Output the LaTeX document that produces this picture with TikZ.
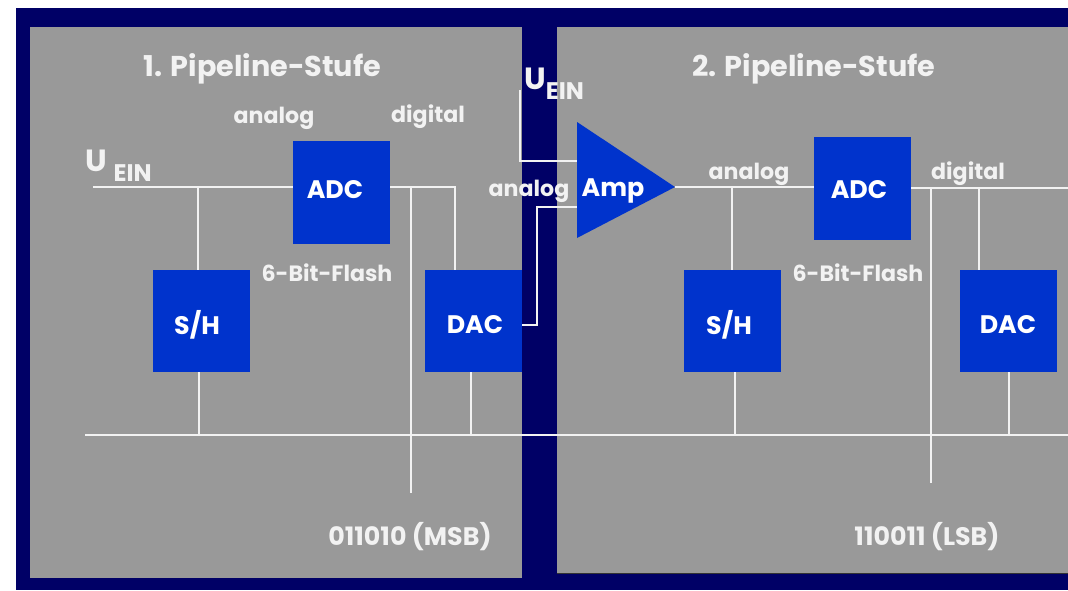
\documentclass[tikz,border=0pt]{standalone}
\usepackage{fontspec}
\setmainfont{Poppins}
\definecolor{navybg}{HTML}{000066}
\definecolor{panelgrey}{HTML}{999999}
\definecolor{boxblue}{HTML}{0033CC}
\definecolor{txt}{HTML}{F2F2F2}
\tikzset{
  panel/.style={fill=panelgrey,draw=none,inner sep=0pt,anchor=north west},
  block/.style={fill=boxblue,draw=none,inner sep=0pt,minimum width=72.75pt,minimum height=76.5pt,text=white,font=\bfseries\fontsize{19}{19}\selectfont},
  blocktext/.style={block,fill=none,minimum width=0pt,minimum height=0pt},
  wire/.style={draw=txt,line width=1.5pt},
  thinwire/.style={draw=txt,line width=1.15pt},
  title/.style={text=txt,inner sep=0pt,font=\bfseries\fontsize{21.5}{21.5}\selectfont},
  lab/.style={text=txt,inner sep=0pt,font=\bfseries\fontsize{16.6}{16.6}\selectfont},
  code/.style={text=txt,inner sep=0pt,font=\bfseries\fontsize{19}{19}\selectfont},
  volt/.style={text=txt,inner sep=0pt,font=\bfseries\fontsize{23}{23}\selectfont},
}
\newcommand{\ein}[1]{\hspace{#1}\raisebox{-7.5pt}{\fontsize{18}{18}\selectfont EIN}}
\begin{document}
\begin{tikzpicture}[x=0.75pt,y=-0.75pt]
\useasboundingbox (0,0) rectangle (1068,590);
\fill[white] (0,0) rectangle (1068,590);
\fill[navybg] (16,8) rectangle (1068,590);
\node[panel,minimum width=369pt,minimum height=413.25pt] (p1) at (30,27) {};
\node[panel,minimum width=383.25pt,minimum height=409.5pt] (p2) at (557,27) {};
\draw[black!80,line width=0.9pt] (p2.south west) -- (p2.south east);

% coordinates
\coordinate (in1) at (93,187);
\coordinate (vin2) at (520,90);
\coordinate (busL) at (85,435);
\coordinate (busR) at (1068,435);
\coordinate (end1) at (411,493);
\coordinate (end2) at (931,483);
\coordinate (outR) at (1068,188);

% blocks
\node[block,minimum height=77.25pt] (adc1) at (341.5,192.5) {};
\node[block] (sh1) at (201,321) {};
\node[block] (dac1) at (473.5,321) {};
\node[block,minimum height=77.25pt] (adc2) at (862.5,188.5) {};
\node[block] (sh2) at (732,321) {};
\node[block] (dac2) at (1008.5,321) {};

% amplifier
\coordinate (ampA) at (577,122);
\coordinate (ampB) at (675,187);
\coordinate (ampC) at (577,238);
\fill[boxblue] (ampA) -- (ampB) -- (ampC) -- cycle;
\coordinate (ampI1) at (577,161);
\coordinate (ampI2) at (577,207);

% wires stage 1
\draw[wire] (in1) -- (in1 -| adc1.west);
\draw[thinwire] (198,187) coordinate (j1) -- (j1 |- sh1.north);
\draw[thinwire] (199,372) coordinate (j2) -- (j2 |- busL);
\draw[wire] (adc1.east |- in1) -- (455,187) coordinate (j3) -- (j3 |- dac1.north);
\draw[thinwire] (411,187) coordinate (j4) -- (end1);
\draw[thinwire] (471,372) coordinate (j5) -- (j5 |- busL);
\draw[wire] (busL) -- (busR);

% wires into amp
\draw[thinwire] (vin2) -- (vin2 |- ampI1) -- (ampI1);
\draw[thinwire] (dac1.east |- 0,325) -- (537,325) coordinate (j6) -- (j6 |- ampI2) -- (ampI2);

% wires stage 2
\draw[wire] (ampB) -- (ampB -| adc2.west);
\draw[thinwire] (732,187) coordinate (j7) -- (j7 |- sh2.north);
\draw[thinwire] (735,372) coordinate (j8) -- (j8 |- busL);
\draw[wire] (adc2.east |- outR) -- (outR);
\draw[thinwire] (931,188) coordinate (j9) -- (end2);
\draw[thinwire] (979,188) coordinate (j10) -- (j10 |- dac2.north);
\draw[thinwire] (1009,372) coordinate (j11) -- (j11 |- busL);

% block texts
\node[blocktext] (tadc1) at (335,190) {ADC};
\node[blocktext] (tsh1) at (197,325) {S/H};
\node[blocktext] (tdac1) at (475,325) {DAC};
\node[blocktext] (tadc2) at (859,190) {ADC};
\node[blocktext] (tsh2) at (729,325) {S/H};
\node[blocktext] (tdac2) at (1008,325) {DAC};
\node[blocktext] (tamp) at (613,191) {Amp};

% labels
\node[title] (t1) at (262.5,69) {1. Pipeline-Stufe};
\node[title] (t2) at (814,69) {2. Pipeline-Stufe};
\node[lab] (a1) at (274,118) {analog};
\node[lab] (d1) at (428,117) {digital};
\node[lab] (a2) at (529,191) {analog};
\node[lab] (a3) at (749,174) {analog};
\node[lab] (d2) at (968,174) {digital};
\node[lab] (f1) at (327,273) {6-Bit-Flash};
\node[lab] (f2) at (858,273) {6-Bit-Flash};
\node[code] (m) at (410,537) {011010 (MSB)};
\node[code] (l) at (927,537) {110011 (LSB)};
\node[volt,anchor=west] (u1) at (85,166) {U\ein{5pt}};
\node[volt,anchor=west] (u2) at (524,84) {U\ein{0pt}};
\end{tikzpicture}
\end{document}
